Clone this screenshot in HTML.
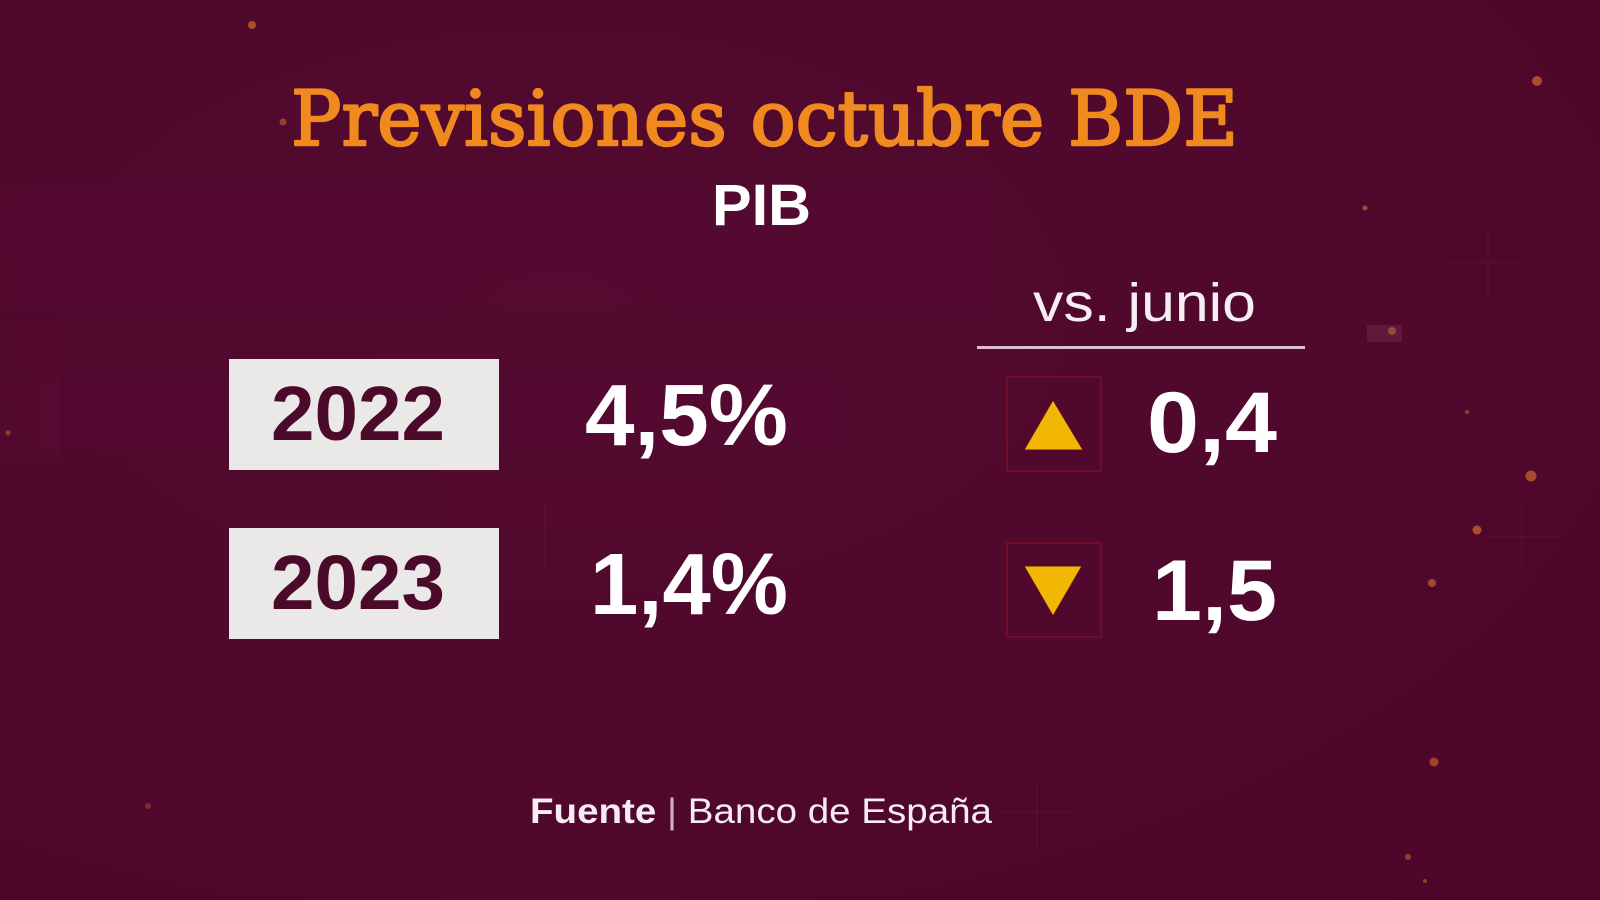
<!DOCTYPE html>
<html>
<head>
<meta charset="utf-8">
<style>
  html, body { margin: 0; padding: 0; background: #50082c; }
  body { width: 1600px; height: 900px; overflow: hidden; }
  svg { display: block; }
</style>
</head>
<body>
<svg width="1600" height="900" viewBox="0 0 1600 900" xmlns="http://www.w3.org/2000/svg">
  <defs>
    <radialGradient id="bg" cx="0.35" cy="0.35" r="0.9">
      <stop offset="0" stop-color="#530a2f"/>
      <stop offset="1" stop-color="#4d0629"/>
    </radialGradient>
  </defs>
  <rect x="0" y="0" width="1600" height="900" fill="url(#bg)"/>

  <!-- subtle background panels -->
  <rect x="0" y="185" width="990" height="125" fill="#5a0c33" opacity="0.35"/>
  <rect x="40" y="380" width="800" height="70" fill="#5a0c33" opacity="0.35"/>
  <rect x="0" y="320" width="60" height="140" fill="#5a0c33" opacity="0.3"/>
  <rect x="440" y="470" width="280" height="60" fill="#5a0c33" opacity="0.25"/>

  <!-- faint crosshair lines -->
  <g stroke="#6a1a40" stroke-width="1" opacity="0.5">
    <line x1="1488" y1="225" x2="1488" y2="300"/>
    <line x1="1450" y1="262" x2="1525" y2="262"/>
    <line x1="1522" y1="500" x2="1522" y2="570"/>
    <line x1="1485" y1="537" x2="1560" y2="537"/>
    <line x1="1037" y1="780" x2="1037" y2="850"/>
    <line x1="1000" y1="812" x2="1070" y2="812"/>
    <line x1="545" y1="500" x2="545" y2="570"/>
  </g>

  <!-- orange dots -->
  <g fill="#c8642c">
    <circle cx="252" cy="25" r="4" opacity="0.75"/>
    <circle cx="283" cy="122" r="3.5" opacity="0.6"/>
    <circle cx="1537" cy="81" r="5" opacity="0.75"/>
    <circle cx="1365" cy="208" r="2.5" opacity="0.7"/>
    <circle cx="1392" cy="331" r="4" opacity="0.75"/>
    <circle cx="1467" cy="412" r="2" opacity="0.6"/>
    <circle cx="1531" cy="476" r="5.5" opacity="0.75"/>
    <circle cx="1477" cy="530" r="4.5" opacity="0.75"/>
    <circle cx="1432" cy="583" r="4" opacity="0.7"/>
    <circle cx="1434" cy="762" r="4.5" opacity="0.65"/>
    <circle cx="1408" cy="857" r="3" opacity="0.6"/>
    <circle cx="1425" cy="881" r="2" opacity="0.6"/>
    <circle cx="8" cy="433" r="2.5" opacity="0.6"/>
    <circle cx="148" cy="806" r="3" opacity="0.4"/>
  </g>
  <rect x="1367" y="325" width="35" height="17" fill="#7a3a5a" opacity="0.35"/>

  <!-- Title -->
  <text x="291" y="145" font-family="'DejaVu Serif', 'Liberation Serif', serif" font-size="76" fill="#f08a1e" stroke="#f08a1e" stroke-width="2.4" stroke-linejoin="round" textLength="947" lengthAdjust="spacingAndGlyphs">Previsiones octubre BDE</text>

  <!-- PIB -->
  <text x="712" y="225" font-family="'Liberation Sans', sans-serif" font-weight="bold" font-size="58" fill="#ffffff" textLength="99" lengthAdjust="spacingAndGlyphs">PIB</text>

  <!-- vs. junio -->
  <text x="1033" y="321" font-family="'Liberation Sans', sans-serif" font-size="54" fill="#f6eef3" textLength="223" lengthAdjust="spacingAndGlyphs">vs. junio</text>
  <rect x="977" y="346" width="328" height="3" fill="#dcbccd"/>

  <!-- Row 2022 -->
  <rect x="229" y="359" width="270" height="111" fill="#ebe8e8"/>
  <text x="271" y="440" font-family="'Liberation Sans', sans-serif" font-weight="bold" font-size="77" fill="#4b0a29" textLength="174" lengthAdjust="spacingAndGlyphs">2022</text>
  <text x="585" y="445" font-family="'Liberation Sans', sans-serif" font-weight="bold" font-size="87" fill="#ffffff" textLength="203" lengthAdjust="spacingAndGlyphs">4,5%</text>

  <rect x="1007" y="377" width="94" height="94" fill="none" stroke="#6e0c2a" stroke-width="2"/>
  <polygon points="1053,400 1083,450 1024,450" fill="#f2b705" stroke="#5a1020" stroke-width="1"/>
  <text x="1147" y="452" font-family="'Liberation Sans', sans-serif" font-weight="bold" font-size="86" fill="#ffffff" textLength="130" lengthAdjust="spacingAndGlyphs">0,4</text>

  <!-- Row 2023 -->
  <rect x="229" y="528" width="270" height="111" fill="#ebe8e8"/>
  <text x="271" y="609" font-family="'Liberation Sans', sans-serif" font-weight="bold" font-size="77" fill="#4b0a29" textLength="174" lengthAdjust="spacingAndGlyphs">2023</text>
  <text x="590" y="614" font-family="'Liberation Sans', sans-serif" font-weight="bold" font-size="87" fill="#ffffff" textLength="198" lengthAdjust="spacingAndGlyphs">1,4%</text>

  <rect x="1007" y="543" width="94" height="94" fill="none" stroke="#6e0c2a" stroke-width="2"/>
  <polygon points="1024,566 1082,566 1053,616" fill="#f2b705" stroke="#5a1020" stroke-width="1"/>
  <text x="1152" y="620" font-family="'Liberation Sans', sans-serif" font-weight="bold" font-size="86" fill="#ffffff" textLength="125" lengthAdjust="spacingAndGlyphs">1,5</text>

  <!-- Source -->
  <text x="530" y="823" font-family="'Liberation Sans', sans-serif" font-size="35" fill="#f6ecf2" textLength="462" lengthAdjust="spacingAndGlyphs"><tspan font-weight="bold">Fuente</tspan><tspan fill="#cfb0c0"> | </tspan><tspan>Banco de España</tspan></text>
</svg>
</body>
</html>
